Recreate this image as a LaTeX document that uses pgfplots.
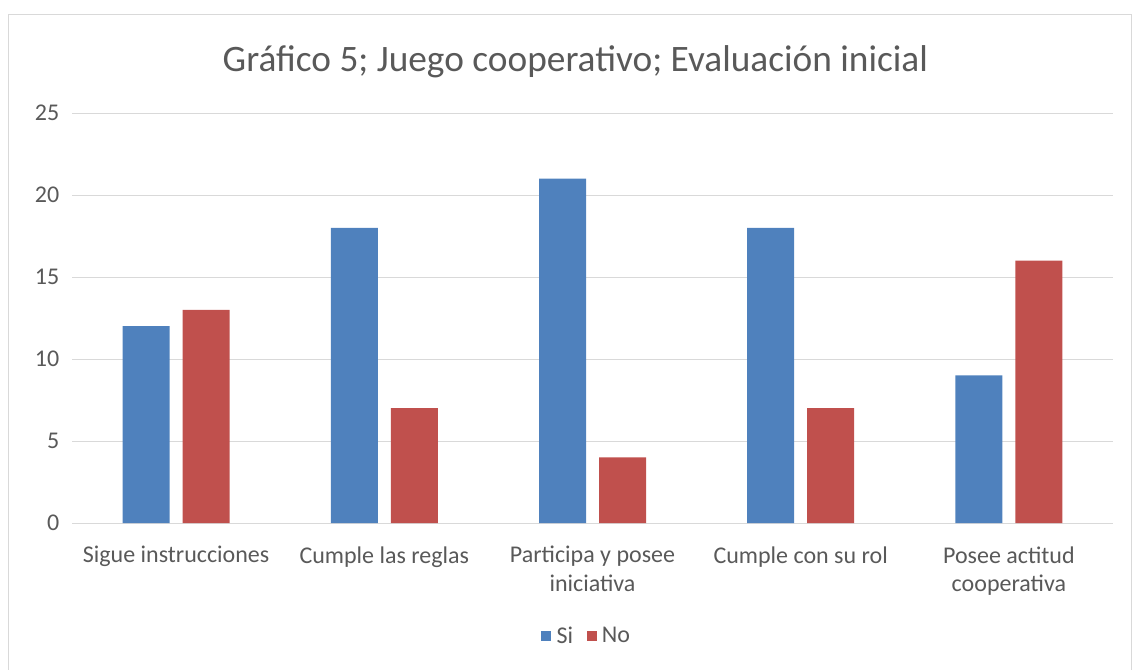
\documentclass[border=0pt]{standalone}
\usepackage{pgfplots}
\pgfplotsset{compat=1.18}
\usepackage{fontspec}
\setmainfont{Carlito}
\definecolor{siblue}{HTML}{4F81BD}
\definecolor{nored}{HTML}{C0504D}
\definecolor{gridgray}{HTML}{D9D9D9}
\definecolor{txtgray}{HTML}{595959}
\begin{document}
\begin{tikzpicture}
\useasboundingbox (0,0) rectangle (849pt,-501.75pt);
\draw[gridgray, line width=0.75pt] (6pt,-10.5pt) rectangle (848.6pt,-510pt);
\node[font=\fontsize{28}{33}\selectfont, text=txtgray] at (431.5pt,-46.5pt) {Gráfico 5; Juego cooperativo; Evaluación inicial};
\begin{axis}[at={(54pt,-392.25pt)}, anchor=south west, scale only axis,
  width=780.75pt, height=307.5pt,
  ybar, bar width=35.25pt, ybar=9.75pt,
  xmin=-0.5, xmax=4.5, ymin=0, ymax=25,
  ytick={0,5,...,25}, xtick={0,1,2,3,4},
  xticklabels={Sigue instrucciones, Cumple las reglas, {Participa y posee\\iniciativa}, Cumple con su rol, {Posee actitud\\cooperativa}},
  xticklabel style={align=center, font=\fontsize{18}{21.5}\selectfont, text=txtgray, yshift=-14pt},
  yticklabel style={font=\fontsize{18}{22}\selectfont, text=txtgray, xshift=-6pt},
  /pgf/number format/assume math mode=true,
  axis line style={draw=none}, major tick length=0pt,
  ymajorgrids, grid style={gridgray, line width=0.75pt},
  legend columns=2,
  legend style={at={(0.496,-0.276)}, anchor=center, draw=none, fill=none,
    font=\fontsize{18}{22}\selectfont, text=txtgray,
    /tikz/every even column/.append style={column sep=6pt}},
  legend image code/.code={\fill[#1] (0pt,-3.75pt) rectangle (7.5pt,3.75pt);},
  legend cell align=left,
  legend style={/tikz/every odd column/.append style={}, nodes={inner xsep=4pt}},
]
\addplot[fill=siblue, draw=none] coordinates {(0,12) (1,18) (2,21) (3,18) (4,9)};
\addplot[fill=nored, draw=none] coordinates {(0,13) (1,7) (2,4) (3,7) (4,16)};
\legend{Si, No}
\end{axis}
\end{tikzpicture}
\end{document}
